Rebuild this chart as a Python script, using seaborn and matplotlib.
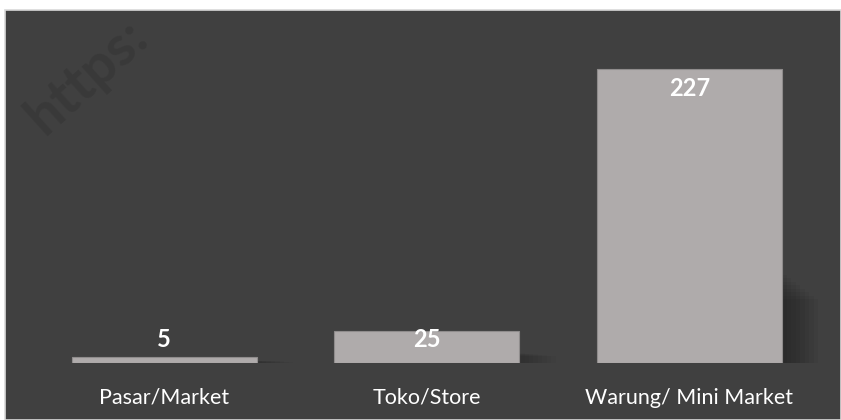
import matplotlib
matplotlib.use("Agg")
import matplotlib.pyplot as plt
from matplotlib.patches import Rectangle
import seaborn as sns
import pandas as pd

categories = ["Pasar/Market", "Toko/Store", "Warung/ Mini Market"]
values = [5, 25, 227]

df = pd.DataFrame({"place": categories, "count": values})

sns.set_style("white")
plt.rcParams["font.family"] = ["Lato", "DejaVu Sans"]

bg = "#404040"
bar_color = "#afabab"

fig = plt.figure(figsize=(8.41, 4.2), dpi=100)
fig.patch.set_facecolor("white")
# dark chart area with light border (like the excel chart frame)
fig.patches.append(Rectangle((5 / 841, 0), 836 / 841, 410 / 420, transform=fig.transFigure,
                             facecolor=bg, edgecolor="#d9d9d9", linewidth=1.2, zorder=0))

ax = fig.add_axes([33 / 841, 57 / 420, 787.5 / 841, 324 / 420])
ax.set_facecolor("none")
ax.set_zorder(2)

sns.barplot(data=df, x="place", y="count", color=bar_color, saturation=1, width=0.705,
            edgecolor="#8f8c8c", linewidth=0.8, ax=ax, zorder=3)

ax.set_xlim(-0.5, 2.5)
ax.set_ylim(0, 250)

# soft shadow on the right side of every bar (fainter for the short ones)
for p in list(ax.patches):
    x_r = p.get_x() + p.get_width()
    h = p.get_height()
    a = 0.04 if h > 100 else 0.018
    for i in range(8):
        w = 0.02 + 0.017 * i
        sh = h * (0.30 - 0.012 * i)
        ax.add_patch(Rectangle((x_r - 0.05, 0), w + 0.05, sh, facecolor="black",
                               alpha=a, linewidth=0, zorder=2, clip_on=False))

# value labels
for i, v in enumerate(values):
    y = max(v - 15, 17.8)
    ax.text(i, y, str(v), ha="center", va="center", color="white", fontsize=17,
            fontweight="bold", zorder=5)

ax.set_xlabel("")
ax.set_ylabel("")
ax.set_yticks([])
ax.tick_params(axis="x", length=0, pad=18, labelsize=15.5, labelcolor="white")
for s in ax.spines.values():
    s.set_visible(False)

# faint watermark in the upper left corner
fig.text(0.02, 0.66, "https:", fontsize=40, fontweight="bold", color="black", alpha=0.1,
         rotation=42, ha="left", va="bottom", zorder=1)

fig.savefig("out.png", dpi=100, facecolor="white")
